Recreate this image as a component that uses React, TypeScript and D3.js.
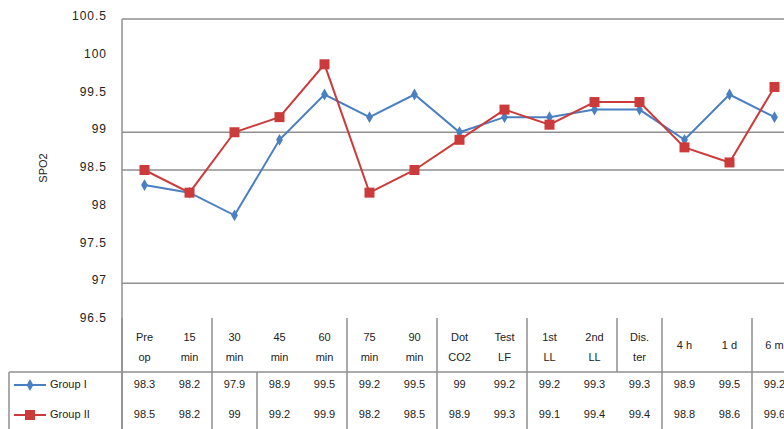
import * as d3 from 'd3';

// categories (two text lines each; single line when second is empty)
const categories = [
  ['Pre', 'op'],
  ['15', 'min'],
  ['30', 'min'],
  ['45', 'min'],
  ['60', 'min'],
  ['75', 'min'],
  ['90', 'min'],
  ['Dot', 'CO2'],
  ['Test', 'LF'],
  ['1st', 'LL'],
  ['2nd', 'LL'],
  ['Dis.', 'ter'],
  ['4 h', ''],
  ['1 d', ''],
  ['6 m', ''],
];

const groupI = [98.3, 98.2, 97.9, 98.9, 99.5, 99.2, 99.5, 99, 99.2, 99.2, 99.3, 99.3, 98.9, 99.5, 99.2];
const groupII = [98.5, 98.2, 99, 99.2, 99.9, 98.2, 98.5, 98.9, 99.3, 99.1, 99.4, 99.4, 98.8, 98.6, 99.6];

const yTicks = [96.5, 97, 97.5, 98, 98.5, 99, 99.5, 100, 100.5];
const gridValues = [99, 98.5, 97];

// table separators: index of the category a divider sits before
const headerDividers = [0, 2, 5, 7, 9, 11, 12, 14];
const rowDividers = [0, 2, 3, 5, 7, 9, 12, 14];

const W = 784;
const H = 429;
const BLUE = '#4a7fc1';
const RED = '#cc3b3b';
const GRID = '#8f8f8f';
const FONT = 'Liberation Sans, Arial, sans-serif';

export default function App() {
  const plotLeft = 122;
  const band = 45;
  const x = d3
    .scaleBand<number>()
    .domain(categories.map((_, i) => i))
    .range([plotLeft, plotLeft + band * categories.length]);
  const y = d3.scaleLinear().domain([96.5, 100.5]).range([321, 19]);
  const cx = (i: number) => (x(i) ?? 0) + x.bandwidth() / 2;

  const line = d3
    .line<number>()
    .x((_, i) => cx(i))
    .y((d) => y(d));

  const headerTop = 318;
  const headerBottom = 372;
  const row1 = 385;
  const row2 = 415;

  const diamond = d3.symbol().type(d3.symbolDiamond).size(40)();

  return (
    <div style={{ position: 'fixed', left: 0, top: 0, width: W, height: H, background: '#fff' }}>
      <svg width={W} height={H} style={{ display: 'block', fontFamily: FONT }}>
        {/* plot frame and gridlines */}
        <line x1={plotLeft} x2={W} y1={y(100.5)} y2={y(100.5)} stroke={GRID} strokeWidth={1.5} />
        {gridValues.map((v) => (
          <line key={v} x1={plotLeft} x2={W} y1={y(v)} y2={y(v)} stroke={GRID} strokeWidth={1.5} />
        ))}
        <line x1={plotLeft} x2={plotLeft} y1={y(100.5)} y2={H} stroke={GRID} strokeWidth={1.5} />

        {/* y ticks */}
        {yTicks.map((t) => (
          <text
            key={t}
            x={107}
            y={y(t) - 2}
            textAnchor="end"
            dominantBaseline="middle"
            fontSize={12}
            letterSpacing={1}
            fill="#222"
          >
            {t}
          </text>
        ))}
        <text
          transform={`translate(44,168) rotate(-90)`}
          textAnchor="middle"
          dominantBaseline="middle"
          fontSize={11}
          fill="#222"
        >
          SPO2
        </text>

        {/* series */}
        <path d={line(groupI) || ''} fill="none" stroke={BLUE} strokeWidth={2} />
        <path d={line(groupII) || ''} fill="none" stroke={RED} strokeWidth={2} />
        {groupI.map((v, i) => (
          <path key={'b' + i} d={diamond || ''} transform={`translate(${cx(i)},${y(v)})`} fill={BLUE} />
        ))}
        {groupII.map((v, i) => (
          <rect key={'r' + i} x={cx(i) - 5} y={y(v) - 5} width={10} height={10} fill={RED} />
        ))}

        {/* data table */}
        {headerDividers.map((i) => (
          <line
            key={'h' + i}
            x1={x(i)}
            x2={x(i)}
            y1={headerTop}
            y2={headerBottom}
            stroke={GRID}
            strokeWidth={1.5}
          />
        ))}
        {rowDividers.map((i) => (
          <line key={'d' + i} x1={x(i)} x2={x(i)} y1={headerBottom} y2={H} stroke={GRID} strokeWidth={1.5} />
        ))}
        <line x1={9} x2={W} y1={headerBottom} y2={headerBottom} stroke={GRID} strokeWidth={1.5} />
        <line x1={9} x2={9} y1={headerBottom} y2={H} stroke={GRID} strokeWidth={1.5} />

        {categories.map((c, i) =>
          c[1] ? (
            <g key={'c' + i} fontSize={11} fill="#222" textAnchor="middle">
              <text x={cx(i)} y={338} dominantBaseline="middle">
                {c[0]}
              </text>
              <text x={cx(i)} y={358} dominantBaseline="middle">
                {c[1]}
              </text>
            </g>
          ) : (
            <text key={'c' + i} x={cx(i)} y={346} fontSize={11} fill="#222" textAnchor="middle" dominantBaseline="middle">
              {c[0]}
            </text>
          )
        )}

        {groupI.map((v, i) => (
          <text key={'t1' + i} x={cx(i)} y={row1} fontSize={11} fill="#222" textAnchor="middle" dominantBaseline="middle">
            {v}
          </text>
        ))}
        {groupII.map((v, i) => (
          <text key={'t2' + i} x={cx(i)} y={row2} fontSize={11} fill="#222" textAnchor="middle" dominantBaseline="middle">
            {v}
          </text>
        ))}

        {/* legend keys */}
        <line x1={14} x2={46} y1={row1} y2={row1} stroke={BLUE} strokeWidth={2} />
        <path d={diamond || ''} transform={`translate(30,${row1})`} fill={BLUE} />
        <text x={50} y={row1} fontSize={11} fill="#222" dominantBaseline="middle">
          Group I
        </text>
        <line x1={14} x2={46} y1={row2} y2={row2} stroke={RED} strokeWidth={2} />
        <rect x={25} y={row2 - 5} width={10} height={10} fill={RED} />
        <text x={50} y={row2} fontSize={11} fill="#222" dominantBaseline="middle">
          Group II
        </text>
      </svg>
    </div>
  );
}
